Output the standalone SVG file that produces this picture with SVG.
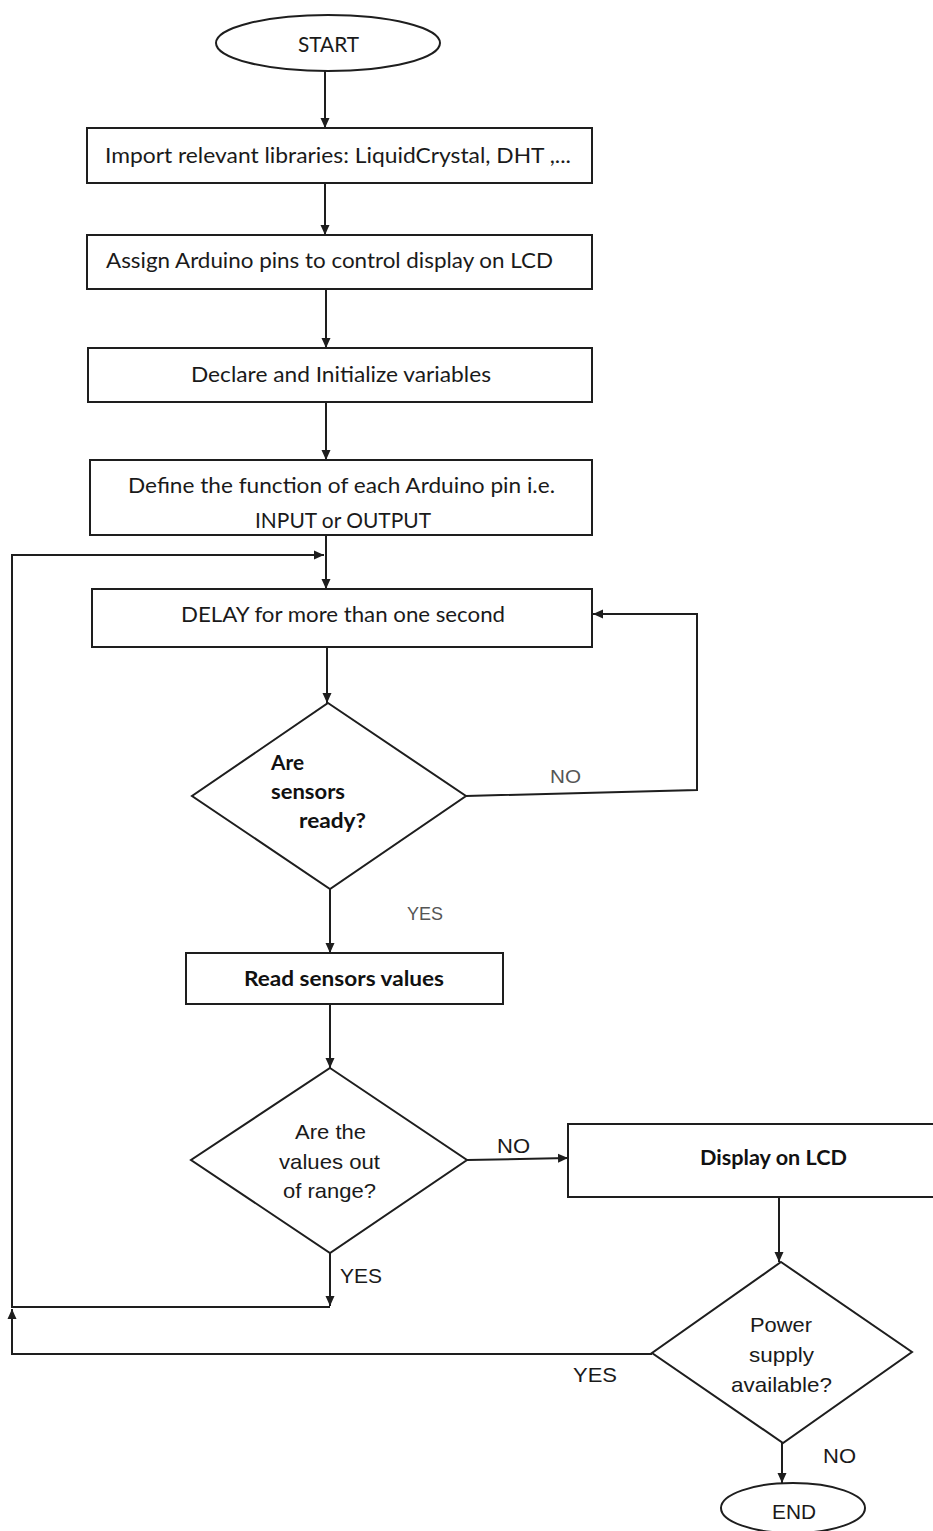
<svg xmlns="http://www.w3.org/2000/svg" width="933" height="1531" viewBox="0 0 933 1531">
<style>
  .shape { fill: #ffffff; stroke: #1e1e1e; stroke-width: 2; }
  .conn { fill: none; stroke: #1e1e1e; stroke-width: 2; }
  .box { font-family: Lato, "Liberation Sans", sans-serif; font-size: 21px; fill: #1a1a1a; }
  .bold { font-family: Lato, "Liberation Sans", sans-serif; font-size: 20px; font-weight: bold; fill: #111111; }
  .narrow { font-family: "Liberation Sans", Arial, sans-serif; font-size: 21px; fill: #1a1a1a; }
  .faint { font-family: "Liberation Sans", Arial, sans-serif; font-size: 19px; fill: #555555; }
</style>
<defs>
  <marker id="arrow" viewBox="0 0 10 10" refX="10" refY="5" markerWidth="10" markerHeight="10" markerUnits="userSpaceOnUse" orient="auto">
    <path d="M0,0.5 L10,5 L0,9.5 z" fill="#1e1e1e"/>
  </marker>
</defs>
<rect width="933" height="1531" fill="#ffffff"/>

<g id="connectors">
  <path class="conn" d="M325 71 V128" marker-end="url(#arrow)"/>
  <path class="conn" d="M325 183 V235" marker-end="url(#arrow)"/>
  <path class="conn" d="M326 289 V348" marker-end="url(#arrow)"/>
  <path class="conn" d="M326 402 V460" marker-end="url(#arrow)"/>
  <path class="conn" d="M326 535 V589" marker-end="url(#arrow)"/>
  <path class="conn" d="M327 648 V703" marker-end="url(#arrow)"/>
  <path class="conn" d="M466 796 L697 790 V614 H593" marker-end="url(#arrow)"/>
  <path class="conn" d="M330 889 V953" marker-end="url(#arrow)"/>
  <path class="conn" d="M330 1004 V1068" marker-end="url(#arrow)"/>
  <path class="conn" d="M467 1160 L568 1158" marker-end="url(#arrow)"/>
  <path class="conn" d="M330 1253 V1306" marker-end="url(#arrow)"/>
  <path class="conn" d="M330 1307 H12 V555 H324" marker-end="url(#arrow)"/>
  <path class="conn" d="M652 1354 H12 V1309" marker-end="url(#arrow)"/>
  <path class="conn" d="M779 1197 V1262" marker-end="url(#arrow)"/>
  <path class="conn" d="M782 1443 V1483" marker-end="url(#arrow)"/>
  <text class="faint" x="550" y="783" textLength="31" lengthAdjust="spacingAndGlyphs">NO</text>
  <text class="faint" x="407" y="920" textLength="36" lengthAdjust="spacingAndGlyphs">YES</text>
  <text class="narrow" x="497" y="1153" textLength="33" lengthAdjust="spacingAndGlyphs">NO</text>
  <text class="narrow" x="340" y="1283" textLength="42" lengthAdjust="spacingAndGlyphs">YES</text>
  <text class="narrow" x="573" y="1382" textLength="44" lengthAdjust="spacingAndGlyphs">YES</text>
  <text class="narrow" x="823" y="1463" textLength="33" lengthAdjust="spacingAndGlyphs">NO</text>
</g>

<g id="start">
  <ellipse class="shape" cx="328" cy="43" rx="112" ry="28"/>
  <text class="box" x="298" y="52" textLength="61" lengthAdjust="spacingAndGlyphs">START</text>
</g>

<g id="import">
  <rect class="shape" x="87" y="128" width="505" height="55"/>
  <text class="box" x="105" y="163" textLength="466" lengthAdjust="spacingAndGlyphs">Import relevant libraries: LiquidCrystal, DHT ,...</text>
</g>

<g id="assign">
  <rect class="shape" x="87" y="235" width="505" height="54"/>
  <text class="box" x="106" y="268" textLength="447" lengthAdjust="spacingAndGlyphs">Assign Arduino pins to control display on LCD</text>
</g>

<g id="declare">
  <rect class="shape" x="88" y="348" width="504" height="54"/>
  <text class="box" x="191" y="382" textLength="300" lengthAdjust="spacingAndGlyphs">Declare and Initialize variables</text>
</g>

<g id="define">
  <rect class="shape" x="90" y="460" width="502" height="75"/>
  <text class="box" x="128" y="493" textLength="427" lengthAdjust="spacingAndGlyphs">Define the function of each Arduino pin i.e.</text>
  <text class="box" x="255" y="528" textLength="176" lengthAdjust="spacingAndGlyphs">INPUT or OUTPUT</text>
</g>

<g id="delay">
  <rect class="shape" x="92" y="589" width="500" height="58"/>
  <text class="box" x="181" y="622" textLength="324" lengthAdjust="spacingAndGlyphs">DELAY for more than one second</text>
</g>

<g id="sensors-ready">
  <polygon class="shape" points="328,703 466,796 330,889 192,796"/>
  <text class="bold" x="271" y="770" textLength="33" lengthAdjust="spacingAndGlyphs">Are</text>
  <text class="bold" x="271" y="799" textLength="74" lengthAdjust="spacingAndGlyphs">sensors</text>
  <text class="bold" x="299" y="828" textLength="67" lengthAdjust="spacingAndGlyphs">ready?</text>
</g>

<g id="read-sensors">
  <rect class="shape" x="186" y="953" width="317" height="51"/>
  <text class="bold" x="244" y="986" textLength="200" lengthAdjust="spacingAndGlyphs">Read sensors values</text>
</g>

<g id="out-of-range">
  <polygon class="shape" points="330,1068 467,1160 330,1253 191,1160"/>
  <text class="narrow" x="295" y="1139" textLength="71" lengthAdjust="spacingAndGlyphs">Are the</text>
  <text class="narrow" x="279" y="1169" textLength="101" lengthAdjust="spacingAndGlyphs">values out</text>
  <text class="narrow" x="283" y="1198" textLength="93" lengthAdjust="spacingAndGlyphs">of range?</text>
</g>

<g id="display-lcd">
  <rect class="shape" x="568" y="1124" width="380" height="73"/>
  <text class="bold" x="700" y="1165" textLength="147" lengthAdjust="spacingAndGlyphs">Display on LCD</text>
</g>

<g id="power-supply">
  <polygon class="shape" points="781,1262 912,1352 783,1443 652,1353"/>
  <text class="narrow" x="750" y="1332" textLength="62" lengthAdjust="spacingAndGlyphs">Power</text>
  <text class="narrow" x="749" y="1362" textLength="65" lengthAdjust="spacingAndGlyphs">supply</text>
  <text class="narrow" x="731" y="1392" textLength="101" lengthAdjust="spacingAndGlyphs">available?</text>
</g>

<g id="end">
  <ellipse class="shape" cx="793" cy="1508" rx="72" ry="25"/>
  <text class="narrow" x="772" y="1519" textLength="44" lengthAdjust="spacingAndGlyphs">END</text>
</g>
</svg>
